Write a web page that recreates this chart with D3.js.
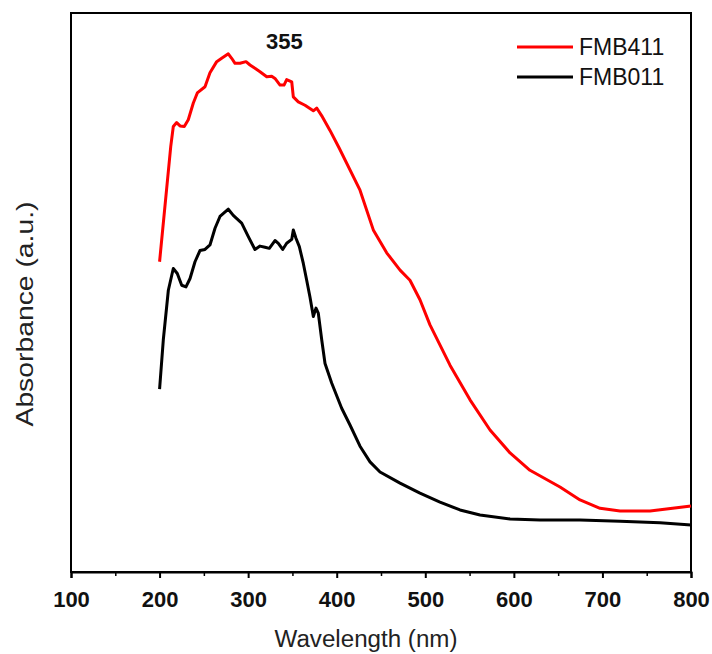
<!DOCTYPE html>
<html>
<head>
<meta charset="utf-8">
<script src="https://cdn.jsdelivr.net/npm/d3@7"></script>
<style>
  body { margin: 0; background: #fff; }
  text { font-family: "Liberation Sans", Arial, sans-serif; }
</style>
</head>
<body>
<div id="chart"></div>
<script>
// wavelength (nm) / absorbance (a.u.)
const redWave = [200, 212.6, 215.5, 219.3, 223.1, 227.9, 232.4, 238.1, 242.6, 251.3, 256.9, 264.5, 270.1, 277.6, 281.4, 285.2, 290.8, 297.6, 302.1, 307.7, 313.4, 321.0, 326.6, 330.3, 336.0, 340.5, 343.5, 349.2, 351.0, 356.6, 364.2, 373.6, 377.4, 383.1, 392.4, 402.9, 426.3, 441.3, 456.4, 471.5, 482.7, 494.0, 505.3, 527.9, 550.5, 573.1, 595.7, 618.2, 652.1, 674.7, 697.3, 719.9, 753.7, 800];
const redAbs = [0.555, 0.761, 0.797, 0.804, 0.798, 0.797, 0.809, 0.839, 0.857, 0.868, 0.893, 0.913, 0.919, 0.927, 0.919, 0.910, 0.910, 0.913, 0.907, 0.901, 0.895, 0.886, 0.887, 0.883, 0.871, 0.871, 0.881, 0.877, 0.850, 0.841, 0.835, 0.825, 0.830, 0.816, 0.790, 0.758, 0.683, 0.612, 0.571, 0.540, 0.522, 0.487, 0.442, 0.370, 0.308, 0.254, 0.213, 0.182, 0.152, 0.129, 0.114, 0.109, 0.109, 0.118];

const blackWave = [200, 204.2, 209.9, 215.5, 220.0, 225.0, 229.8, 234.4, 240.0, 245.6, 251.3, 256.9, 262.6, 268.2, 277.6, 283.2, 292.7, 300.2, 307.7, 313.4, 319.0, 323.9, 330.3, 334.1, 339.0, 343.5, 349.2, 351.0, 354.0, 357.8, 362.3, 366.1, 369.8, 373.6, 376.6, 379.2, 383.1, 386.8, 394.3, 405.6, 415.0, 426.3, 437.6, 448.9, 471.5, 494.0, 516.6, 539.2, 561.8, 595.7, 629.5, 674.7, 719.9, 765.0, 800];
const blackAbs = [0.327, 0.415, 0.504, 0.543, 0.534, 0.513, 0.510, 0.525, 0.555, 0.575, 0.577, 0.585, 0.615, 0.636, 0.649, 0.638, 0.624, 0.600, 0.577, 0.583, 0.581, 0.579, 0.593, 0.588, 0.577, 0.588, 0.595, 0.612, 0.597, 0.582, 0.552, 0.522, 0.492, 0.457, 0.472, 0.463, 0.415, 0.373, 0.338, 0.293, 0.263, 0.225, 0.197, 0.179, 0.159, 0.141, 0.125, 0.111, 0.102, 0.095, 0.093, 0.093, 0.091, 0.088, 0.084];

const seriesNames = ["FMB411", "FMB011"];
const seriesColors = ["#ff0000", "#000000"];
const xTicks = [100, 200, 300, 400, 500, 600, 700, 800];
const xMinorTicks = [150, 250, 350, 450, 550, 650, 750];

const W = 712, H = 654;
const margin = {top: 13, right: 21, bottom: 82, left: 71};
const width = W - margin.left - margin.right;
const height = H - margin.top - margin.bottom;

const svg = d3.select("#chart").append("svg")
    .attr("width", W).attr("height", H)
    .append("g")
    .attr("transform", "translate(" + margin.left + "," + margin.top + ")");

const x = d3.scaleLinear().domain([100, 800]).range([0, width]);
const y = d3.scaleLinear().domain([0, 1]).range([height, 0]);

// frame
svg.append("rect")
    .attr("width", width).attr("height", height)
    .attr("fill", "none").attr("stroke", "#000").attr("stroke-width", 2);

// x axis, major + minor ticks
const xAxis = d3.axisBottom(x).tickValues(xTicks).tickSize(6).tickPadding(13).tickFormat(d3.format("d"));
const gx = svg.append("g")
    .attr("transform", "translate(0," + height + ")")
    .call(xAxis);
gx.select(".domain").attr("stroke-width", 2);
gx.selectAll(".tick line").attr("stroke-width", 2);
gx.selectAll(".tick text")
    .attr("font-size", 22).attr("font-weight", "bold")
    .attr("font-family", "'Liberation Sans', Arial, sans-serif").attr("fill", "#111");

svg.append("g")
    .attr("transform", "translate(0," + height + ")")
    .call(d3.axisBottom(x).tickValues(xMinorTicks).tickSize(4).tickFormat(""))
    .call(g => g.select(".domain").remove())
    .selectAll(".tick line").attr("stroke-width", 1.5);

// lines
const line = d3.line()
    .x(d => x(d[0]))
    .y(d => y(d[1]));

const redData = redWave.map((w, i) => [w, redAbs[i]]);
const blackData = blackWave.map((w, i) => [w, blackAbs[i]]);

svg.append("path").datum(redData)
    .attr("d", line).attr("fill", "none")
    .attr("stroke", seriesColors[0]).attr("stroke-width", 3)
    .attr("stroke-linejoin", "round");

svg.append("path").datum(blackData)
    .attr("d", line).attr("fill", "none")
    .attr("stroke", seriesColors[1]).attr("stroke-width", 3)
    .attr("stroke-linejoin", "round");

// peak annotation
svg.append("text").text("355")
    .attr("x", x(341)).attr("y", 49 - margin.top)
    .attr("text-anchor", "middle")
    .attr("font-size", 22).attr("font-weight", "bold").attr("fill", "#111");

// legend
const legend = svg.selectAll(".legend").data(seriesNames)
    .enter().append("g")
    .attr("class", "legend")
    .attr("transform", (d, i) => "translate(" + (517 - margin.left) + "," + (47 - margin.top + i * 30) + ")");

legend.append("line")
    .attr("x1", 0).attr("x2", 56)
    .attr("stroke", (d, i) => seriesColors[i]).attr("stroke-width", 3);

legend.append("text").text(d => d)
    .attr("x", 62).attr("y", 8)
    .attr("font-size", 23).attr("fill", "#111");

// axis titles
svg.append("text").text("Wavelength (nm)")
    .attr("x", 366 - margin.left).attr("y", 647 - margin.top)
    .attr("text-anchor", "middle")
    .attr("textLength", 183).attr("lengthAdjust", "spacingAndGlyphs")
    .attr("font-size", 23).attr("fill", "#222");

svg.append("text").text("Absorbance (a.u.)")
    .attr("transform", "translate(" + (33 - margin.left) + "," + (314 - margin.top) + ") rotate(-90)")
    .attr("text-anchor", "middle")
    .attr("textLength", 225).attr("lengthAdjust", "spacingAndGlyphs")
    .attr("font-size", 24).attr("fill", "#222");
</script>
</body>
</html>
